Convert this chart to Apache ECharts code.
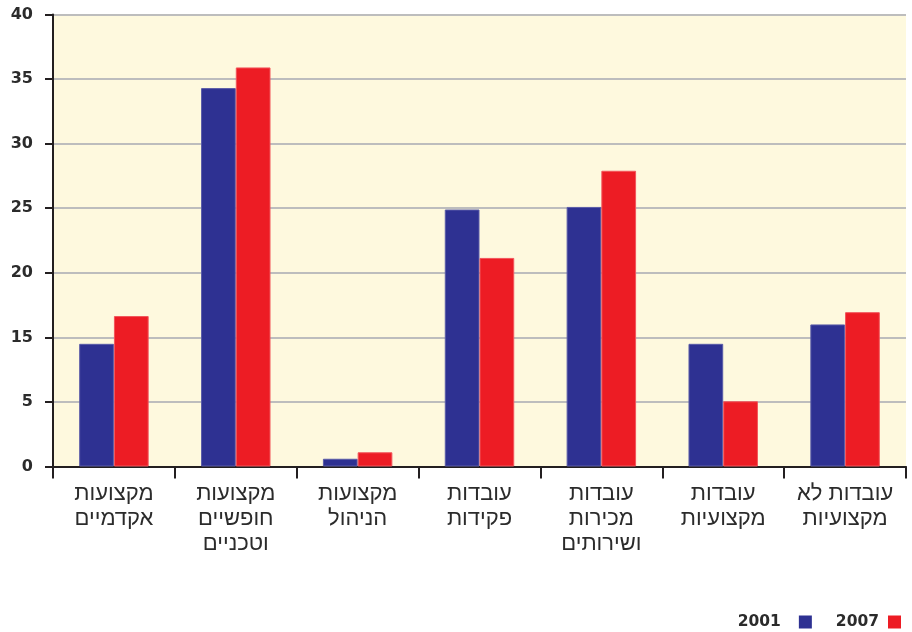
<!DOCTYPE html>
<html>
<head>
<meta charset="utf-8">
<script src="https://cdn.jsdelivr.net/npm/echarts@6/dist/echarts.min.js"></script>
<style>
html,body{margin:0;padding:0;background:#fff;}
#chart{width:912px;height:632px;}
</style>
</head>
<body>
<div id="chart"></div>
<script>
const categories = [
  'מקצועות\nאקדמיים',
  'מקצועות\nחופשיים\nוטכניים',
  'מקצועות\nהניהול',
  'עובדות\nפקידות',
  'עובדות\nמכירות\nושירותים',
  'עובדות\nמקצועיות',
  'עובדות לא\nמקצועיות'
];
const values2001 = [9.5, 29.3, 0.6, 19.9, 20.1, 9.5, 11.0];
const values2007 = [11.65, 30.9, 1.1, 16.15, 22.9, 5.05, 11.95];
const yTickLabels = ['0', '5', '15', '20', '25', '30', '35', '40'];
const seriesNames = ['2001', '2007'];

const chart = echarts.init(document.getElementById('chart'));
chart.setOption({
  animation: false,
  backgroundColor: '#ffffff',
  grid: { left: 53, right: 6, top: 14.5, bottom: 165.5, show: true, backgroundColor: '#FEF9DE', borderWidth: 0 },
  legend: {
    data: [
      { name: seriesNames[0], textStyle: { padding: [0, 13, 0, 0] } },
      { name: seriesNames[1], textStyle: { padding: [0, 4, 0, 0] } }
    ],
    right: 11, top: 614, padding: 0,
    align: 'right',
    itemWidth: 13, itemHeight: 13, itemGap: 24,
    icon: 'rect',
    itemStyle: { borderWidth: 0 },
    textStyle: { fontFamily: 'DejaVu Sans', fontWeight: 'bold', fontSize: 15.5, color: '#2b2b2b' }
  },
  xAxis: {
    type: 'category',
    data: categories,
    axisLine: { lineStyle: { color: '#231F20', width: 2 } },
    axisTick: { show: true, length: 12, lineStyle: { color: '#231F20', width: 2 } },
    axisLabel: { interval: 0, margin: 15, fontFamily: 'Liberation Sans, DejaVu Sans', fontSize: 22, lineHeight: 25, color: '#2b2b2b' }
  },
  yAxis: {
    type: 'value',
    min: 0, max: 35, interval: 5,
    axisLine: { show: true, lineStyle: { color: '#231F20', width: 2 } },
    axisTick: { show: true, length: 8, lineStyle: { color: '#231F20', width: 2 } },
    splitLine: { show: true, lineStyle: { color: '#BDBDBD', width: 2 } },
    axisLabel: {
      margin: 20, fontFamily: 'DejaVu Sans', fontWeight: 'bold', fontSize: 16, color: '#2b2b2b',
      formatter: function (v) { return yTickLabels[Math.round(v / 5)]; }
    }
  },
  series: [
    { name: seriesNames[0], type: 'bar', data: values2001, barGap: '0%', barCategoryGap: '43%',
      itemStyle: { color: '#2E3192', borderColor: '#5A5CA8', borderWidth: 1 } },
    { name: seriesNames[1], type: 'bar', data: values2007, barGap: '0%', barCategoryGap: '43%',
      itemStyle: { color: '#ED1C24', borderColor: '#F2555B', borderWidth: 1 } }
  ]
});
</script>
</body>
</html>
